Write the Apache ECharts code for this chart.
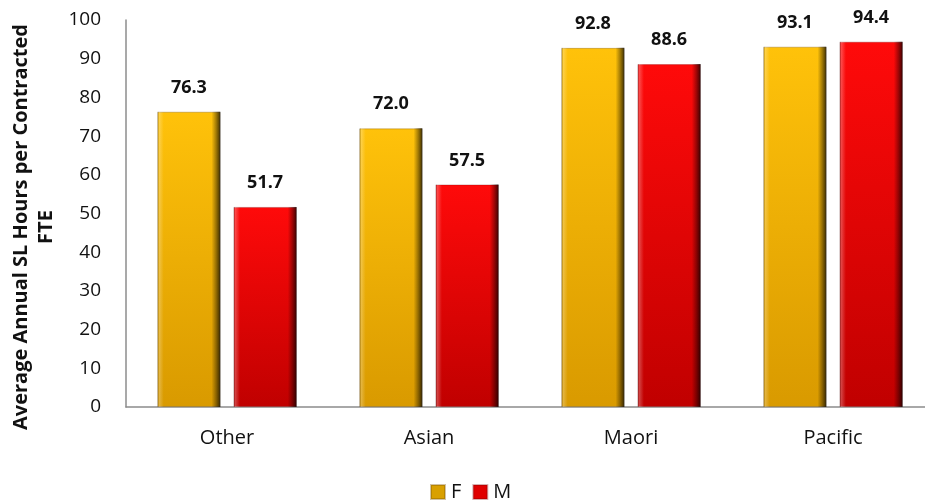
<!DOCTYPE html>
<html>
<head>
<meta charset="utf-8">
<script src="https://cdn.jsdelivr.net/npm/echarts@6/dist/echarts.min.js"></script>
<style>
  html, body { margin: 0; padding: 0; background: #fff; }
  #chart { width: 925px; height: 502px; }
</style>
</head>
<body>
<div id="chart"></div>
<script>
// Sick-leave hours per contracted FTE by ethnicity and sex
const categories = ['Other', 'Asian', 'Maori', 'Pacific'];
const femaleValues = [76.3, 72.0, 92.8, 93.1];
const maleValues = [51.7, 57.5, 88.6, 94.4];
const yTicks = { min: 0, max: 100, interval: 10 };
const yTitle = ['Average Annual SL Hours per Contracted', 'FTE'];

const FONT = '"Open Sans", "Liberation Sans", sans-serif';

function vGrad(top, bottom) {
  return new echarts.graphic.LinearGradient(0, 0, 0, 1, [
    { offset: 0, color: top },
    { offset: 1, color: bottom }
  ]);
}

// bevel shading laid over the body colour: light left rim, dark right rim
const bevel = new echarts.graphic.LinearGradient(0, 0, 1, 0, [
  { offset: 0, color: 'rgba(0,0,0,0.18)' },
  { offset: 0.03, color: 'rgba(255,255,255,0.25)' },
  { offset: 0.10, color: 'rgba(255,255,255,0.0)' },
  { offset: 0.86, color: 'rgba(0,0,0,0.0)' },
  { offset: 0.93, color: 'rgba(0,0,0,0.35)' },
  { offset: 1, color: 'rgba(0,0,0,0.75)' }
]);

const fColor = vGrad('#ffc20a', '#d99a00');
const mColor = vGrad('#ff0a0a', '#c00000');

const barWidth = 63;

const labelStyle = {
  show: true,
  position: 'top',
  distance: 15,
  fontFamily: FONT,
  fontWeight: 'bold',
  fontSize: 18,
  color: '#111',
  formatter: p => p.value.toFixed(1)
};

const chart = echarts.init(document.getElementById('chart'), null, { renderer: 'canvas' });
chart.setOption({
  animation: false,
  backgroundColor: '#fff',
  grid: { left: 126, right: -9, top: 20, bottom: 95, containLabel: false, outerBoundsMode: 'none' },
  // rotated y-axis title, two lines
  graphic: [{
    type: 'text',
    x: 34,
    y: 227,
    rotation: Math.PI / 2,
    style: {
      text: yTitle.join('\n'),
      fontFamily: FONT,
      fontWeight: 'bold',
      fontSize: 20,
      lineHeight: 25,
      fill: '#111',
      align: 'center',
      verticalAlign: 'middle'
    }
  }],
  legend: {
    top: 477,
    left: 425,
    itemWidth: 14,
    itemHeight: 14,
    itemGap: 11,
    data: [
      { name: 'F', icon: 'rect', itemStyle: { color: '#d9a000' } },
      { name: 'M', icon: 'rect', itemStyle: { color: '#e00000' } }
    ],
    textStyle: { fontFamily: FONT, fontSize: 20, color: '#111', padding: [0, 0, 0, 1] }
  },
  xAxis: [{
    type: 'category',
    data: categories,
    axisLine: { show: true, lineStyle: { color: '#8c8c8c', width: 1.5 } },
    axisTick: { show: false },
    axisLabel: { fontFamily: FONT, fontSize: 20, color: '#111', margin: 21 }
  }, {
    type: 'category',
    data: categories,
    show: false
  }],
  yAxis: {
    type: 'value',
    min: yTicks.min,
    max: yTicks.max,
    interval: yTicks.interval,
    axisLine: { show: true, lineStyle: { color: '#8c8c8c', width: 1.5 } },
    axisTick: { show: false },
    splitLine: { show: false },
    axisLabel: { fontFamily: FONT, fontSize: 19, color: '#111', margin: 25 }
  },
  series: [
    {
      name: 'F', type: 'bar', data: femaleValues, barWidth: barWidth, barGap: '21%',
      itemStyle: { color: fColor, borderColor: 'rgba(120,80,0,0.35)', borderWidth: 1 },
      label: labelStyle
    },
    {
      name: 'M', type: 'bar', data: maleValues, barWidth: barWidth, barGap: '21%',
      itemStyle: { color: mColor, borderColor: 'rgba(120,0,0,0.3)', borderWidth: 1 },
      label: labelStyle
    },
    {
      name: 'F-bevel', type: 'bar', xAxisIndex: 1, data: femaleValues, barWidth: barWidth, barGap: '21%',
      itemStyle: { color: bevel }, silent: true, label: { show: false }
    },
    {
      name: 'M-bevel', type: 'bar', xAxisIndex: 1, data: maleValues, barWidth: barWidth, barGap: '21%',
      itemStyle: { color: bevel }, silent: true, label: { show: false }
    }
  ]
});
</script>
</body>
</html>
